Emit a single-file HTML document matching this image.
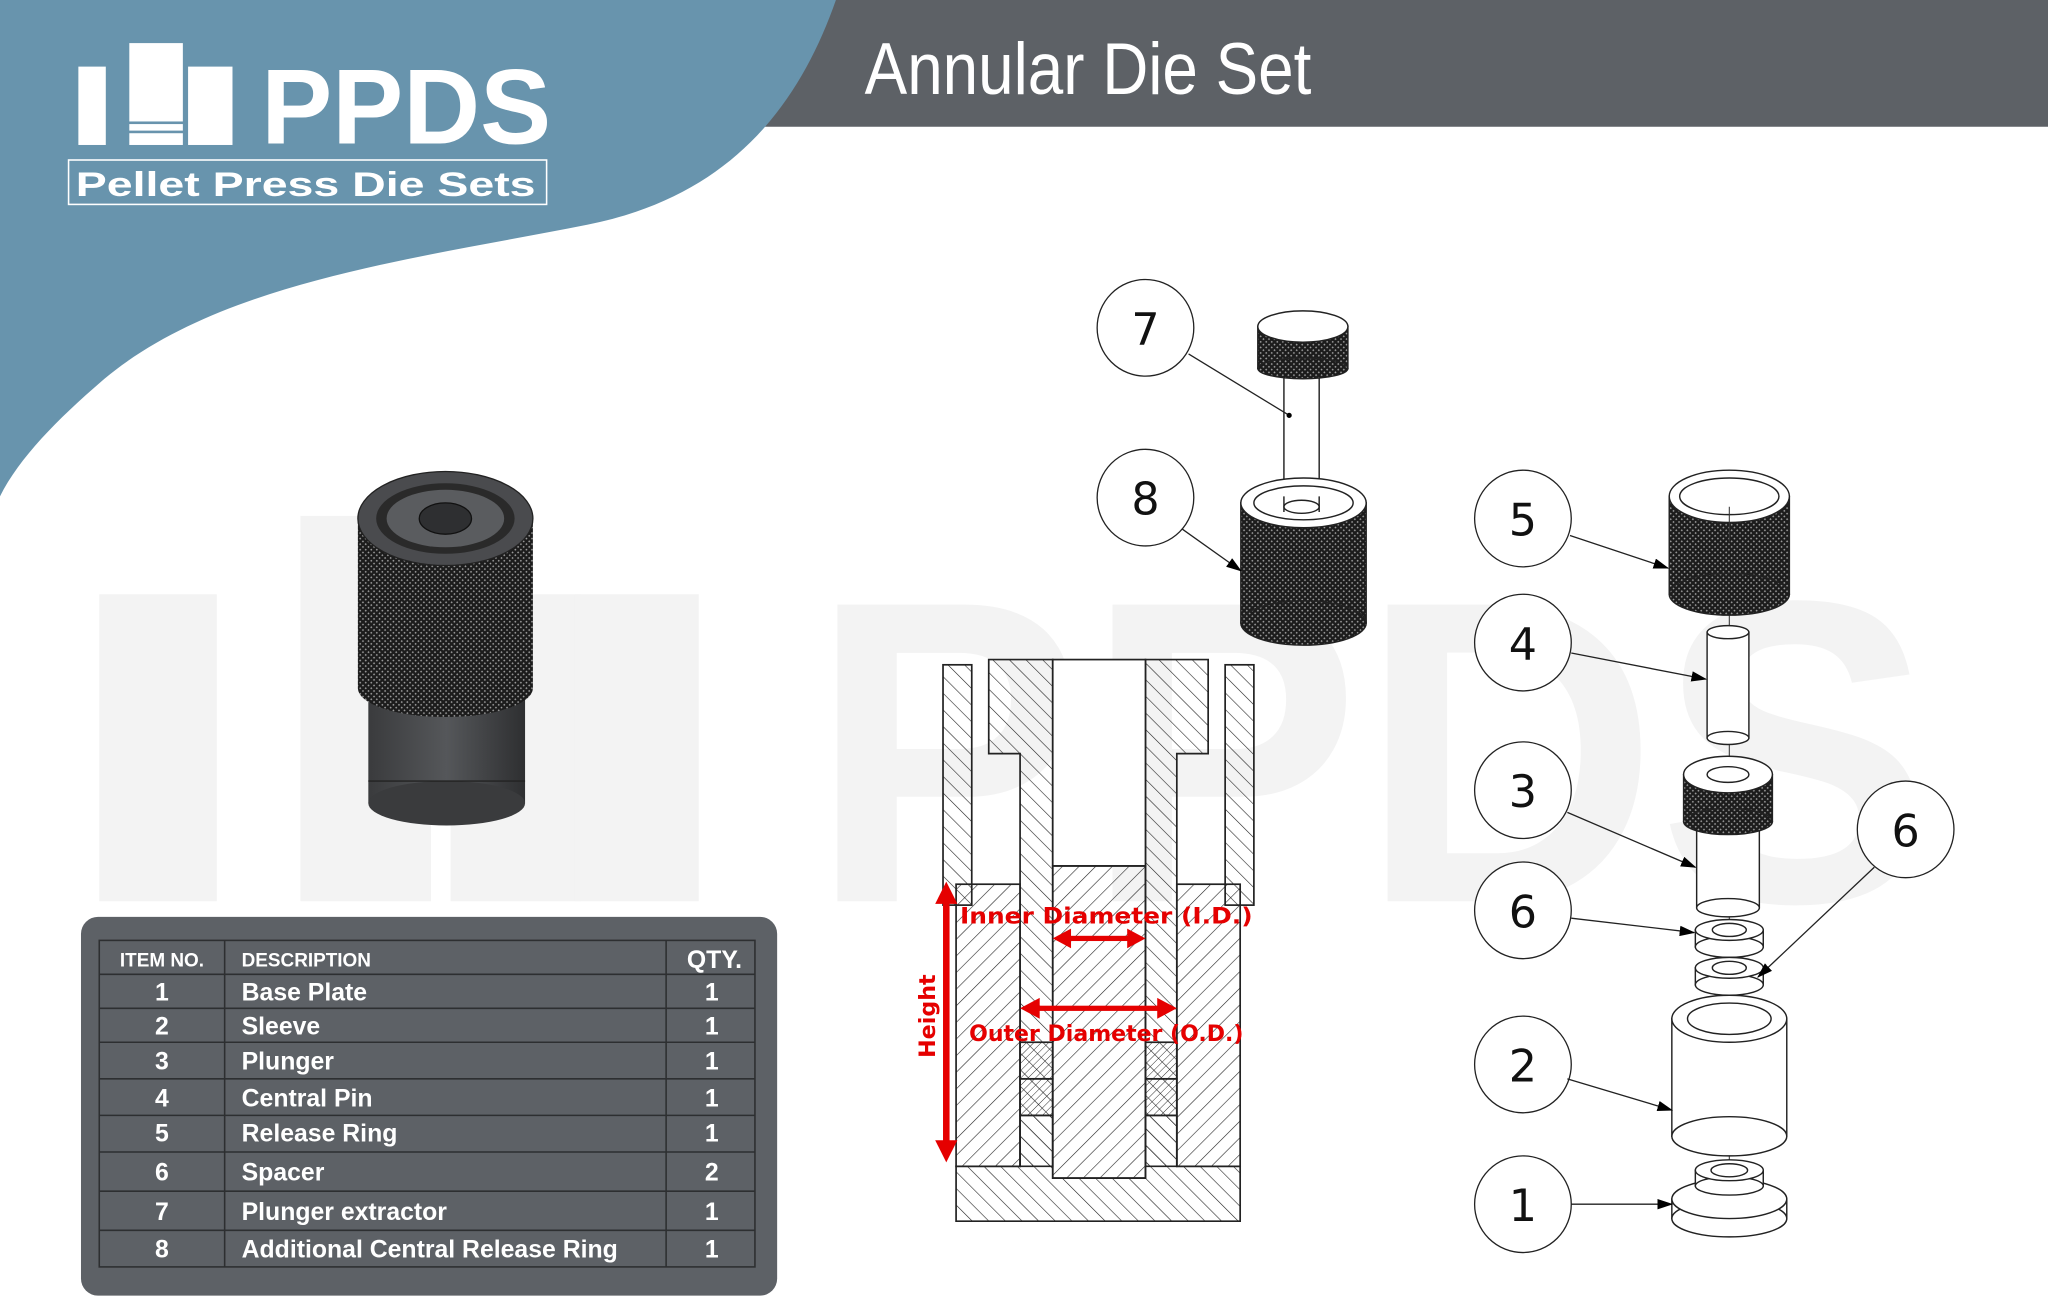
<!DOCTYPE html>
<html><head><meta charset="utf-8"><style>
html,body{margin:0;padding:0;background:#fff;width:2048px;height:1304px;overflow:hidden}
svg{display:block}
</style></head><body>
<svg width="2048" height="1304" viewBox="0 0 1568 998.4" preserveAspectRatio="none" xmlns="http://www.w3.org/2000/svg">
<defs>
<pattern id="h1" width="9" height="9" patternUnits="userSpaceOnUse" patternTransform="rotate(45)"><line x1="0" y1="0" x2="0" y2="9" stroke="#222" stroke-width="0.9"/></pattern>
<pattern id="h2" width="9" height="9" patternUnits="userSpaceOnUse" patternTransform="rotate(-45)"><line x1="0" y1="0" x2="0" y2="9" stroke="#222" stroke-width="0.9"/></pattern>
<pattern id="h3" width="4" height="4" patternUnits="userSpaceOnUse" patternTransform="rotate(45)"><line x1="0" y1="0" x2="0" y2="4" stroke="#222" stroke-width="0.7"/></pattern>
<pattern id="kn" width="3" height="3" patternUnits="userSpaceOnUse" patternTransform="rotate(45)"><rect width="3" height="3" fill="#1c1c1c"/><rect width="1.2" height="1.2" fill="#9a9a9a"/></pattern>
<linearGradient id="cyl" x1="0" x2="1"><stop offset="0" stop-color="#3a3b3d"/><stop offset="0.5" stop-color="#55575a"/><stop offset="1" stop-color="#2e2f31"/></linearGradient>
<marker id="ar" markerWidth="12" markerHeight="8" refX="11" refY="4" orient="auto" markerUnits="userSpaceOnUse"><path d="M0,0 L12,4 L0,8 Z" fill="#000"/></marker>
</defs>

<!-- watermark -->
<g fill="#f3f3f3">
<rect x="76" y="455" width="90" height="235"/><rect x="230" y="395" width="100" height="295"/><rect x="345" y="455" width="100" height="235"/>
<rect x="440" y="455" width="95" height="235"/>
<text x="620" y="690" font-family="Liberation Sans, sans-serif" font-weight="bold" font-size="330" textLength="860" lengthAdjust="spacingAndGlyphs">PPDS</text>
</g>

<!-- header -->
<path d="M560,97 L600,0 H1568 V97 Z" fill="#5d6166"/>
<path d="M0,0 H640 C612,80 560,150 450,172 C320,198 170,215 80,290 C45,320 15,350 0,380 Z" fill="#6894ad"/>
<text x="662" y="72" font-family="Liberation Sans, sans-serif" font-size="56" fill="#fff" textLength="342" lengthAdjust="spacingAndGlyphs">Annular Die Set</text>

<!-- logo -->
<g fill="#fff">
<rect x="60" y="51" width="21" height="60"/>
<rect x="99" y="33" width="41" height="60"/><rect x="99" y="95" width="41" height="5"/><rect x="99" y="102" width="41" height="9"/>
<rect x="144" y="51" width="34" height="60"/>
</g>
<text x="200" y="110" font-family="Liberation Sans, sans-serif" font-weight="bold" font-size="82" fill="#fff" textLength="222" lengthAdjust="spacingAndGlyphs">PPDS</text>
<rect x="52.5" y="122.5" width="366" height="34" fill="none" stroke="#fff" stroke-width="1.2"/>
<text x="58" y="150" font-family="Liberation Sans, sans-serif" font-weight="bold" font-size="26" fill="#fff" textLength="352" lengthAdjust="spacingAndGlyphs">Pellet Press Die Sets</text>

<!-- die photo -->
<g>
<rect x="282" y="520" width="120" height="95" fill="url(#cyl)"/>
<ellipse cx="342" cy="615" rx="60" ry="17" fill="#3a3b3d"/>
<line x1="282" y1="598" x2="402" y2="598" stroke="#222" stroke-width="1"/>
<rect x="274" y="397" width="134" height="130" fill="url(#kn)"/>
<ellipse cx="341" cy="527" rx="67" ry="22" fill="url(#kn)"/>
<ellipse cx="341" cy="397" rx="67" ry="36" fill="#4a4b4e" stroke="#222"/>
<ellipse cx="341" cy="397" rx="53" ry="27" fill="#2a2a2a"/>
<ellipse cx="341" cy="397" rx="45" ry="22" fill="#5a5c5f"/>
<ellipse cx="341" cy="397" rx="20" ry="12" fill="#2e2f31" stroke="#111"/>
</g>

<!-- table -->
<rect x="62" y="702" width="533" height="290" rx="13" fill="#5d6166"/>
<g stroke="#2d2f31" stroke-width="1.2" fill="none">
<rect x="76" y="720" width="502" height="250"/>
<line x1="172" y1="720" x2="172" y2="970"/><line x1="510" y1="720" x2="510" y2="970"/>
<line x1="76" y1="746" x2="578" y2="746"/><line x1="76" y1="772" x2="578" y2="772"/>
<line x1="76" y1="798" x2="578" y2="798"/><line x1="76" y1="826" x2="578" y2="826"/>
<line x1="76" y1="854" x2="578" y2="854"/><line x1="76" y1="882" x2="578" y2="882"/>
<line x1="76" y1="912" x2="578" y2="912"/><line x1="76" y1="942" x2="578" y2="942"/>
</g>
<g font-family="Liberation Sans, sans-serif" font-weight="bold" fill="#fff">
<text x="124" y="740" font-size="14.5" text-anchor="middle">ITEM NO.</text>
<text x="185" y="740" font-size="14.5">DESCRIPTION</text>
<text x="547" y="741" font-size="19" text-anchor="middle">QTY.</text>
<g font-size="19">
<text x="124" y="766" text-anchor="middle">1</text><text x="185" y="766">Base Plate</text><text x="545" y="766" text-anchor="middle">1</text>
<text x="124" y="792" text-anchor="middle">2</text><text x="185" y="792">Sleeve</text><text x="545" y="792" text-anchor="middle">1</text>
<text x="124" y="819" text-anchor="middle">3</text><text x="185" y="819">Plunger</text><text x="545" y="819" text-anchor="middle">1</text>
<text x="124" y="847" text-anchor="middle">4</text><text x="185" y="847">Central Pin</text><text x="545" y="847" text-anchor="middle">1</text>
<text x="124" y="874" text-anchor="middle">5</text><text x="185" y="874">Release Ring</text><text x="545" y="874" text-anchor="middle">1</text>
<text x="124" y="904" text-anchor="middle">6</text><text x="185" y="904">Spacer</text><text x="545" y="904" text-anchor="middle">2</text>
<text x="124" y="934" text-anchor="middle">7</text><text x="185" y="934">Plunger extractor</text><text x="545" y="934" text-anchor="middle">1</text>
<text x="124" y="963" text-anchor="middle">8</text><text x="185" y="963">Additional Central Release Ring</text><text x="545" y="963" text-anchor="middle">1</text>
</g></g>

<!-- cross section -->
<g stroke="#222" stroke-width="1.3">
<rect x="722" y="509" width="22" height="184" fill="url(#h2)"/>
<rect x="938" y="509" width="22" height="184" fill="url(#h2)"/>
<path d="M757,505 H806 V893 H781 V577 H757 Z" fill="url(#h2)"/>
<path d="M877,505 H925 V577 H901 V893 H877 Z" fill="url(#h2)"/>
<rect x="806" y="505" width="71" height="158" fill="#fff"/>
<rect x="806" y="663" width="71" height="239" fill="url(#h1)"/>
<rect x="732" y="677" width="49" height="216" fill="url(#h1)"/>
<rect x="901" y="677" width="48.5" height="216" fill="url(#h1)"/>
<rect x="781" y="798" width="25" height="28" fill="url(#h3)"/>
<rect x="781" y="826" width="25" height="28" fill="url(#h3)"/>
<rect x="877" y="798" width="24" height="28" fill="url(#h3)"/>
<rect x="877" y="826" width="24" height="28" fill="url(#h3)"/>
<path d="M732,893 H781 V854 H806 V902 H877 V854 H901 V893 H949.5 V935 H732 Z" fill="url(#h2)"/>
</g>
<g fill="#e50000" stroke="none">
<rect x="722" y="688" width="5" height="192"/><path d="M724.5,675 L716,692 H733 Z"/><path d="M724.5,890 L716,873 H733 Z"/>
<rect x="818" y="716.5" width="46" height="4"/><path d="M806,718.5 L820,711 V726 Z"/><path d="M877,718.5 L863,711 V726 Z"/>
<rect x="795" y="770" width="92" height="4"/><path d="M781,772 L796,764 V780 Z"/><path d="M901,772 L886,764 V780 Z"/>
</g>
<g font-family="DejaVu Sans, sans-serif" font-weight="bold" fill="#e50000">
<text x="847" y="707" font-size="17" text-anchor="middle" textLength="224" lengthAdjust="spacingAndGlyphs">Inner Diameter (I.D.)</text>
<text x="847" y="797" font-size="17" text-anchor="middle" textLength="210" lengthAdjust="spacingAndGlyphs">Outer Diameter (O.D.)</text>
<text transform="translate(716,778) rotate(-90)" font-size="17" text-anchor="middle">Height</text>
</g>

<!-- balloons -->
<g fill="#fff" stroke="#222" stroke-width="1">
<circle cx="877" cy="251" r="37"/><circle cx="877" cy="381" r="37"/>
<circle cx="1166" cy="397" r="37"/><circle cx="1166" cy="492" r="37"/><circle cx="1166" cy="605" r="37"/>
<circle cx="1166" cy="697" r="37"/><circle cx="1166" cy="815" r="37"/><circle cx="1166" cy="922" r="37"/>
<circle cx="1459" cy="635" r="37"/>
</g>
<g font-family="DejaVu Sans, sans-serif" font-size="34" fill="#111" text-anchor="middle">
<text x="877" y="264">7</text><text x="877" y="394">8</text>
<text x="1166" y="410">5</text><text x="1166" y="505">4</text><text x="1166" y="618">3</text>
<text x="1166" y="710">6</text><text x="1166" y="828">2</text><text x="1166" y="935">1</text>
<text x="1459" y="648">6</text>
</g>

<!-- part 7 & 8 -->
<g stroke="#222" stroke-width="1.1">
<rect x="983" y="280" width="27" height="112" fill="#fff"/>
<rect x="963" y="250" width="69" height="32" fill="url(#kn)"/>
<ellipse cx="997.5" cy="282" rx="34.5" ry="8" fill="url(#kn)"/>
<ellipse cx="997.5" cy="250" rx="34.5" ry="12" fill="#fff"/>
<rect x="950" y="385" width="96" height="92" fill="url(#kn)"/>
<ellipse cx="998" cy="477" rx="48" ry="17" fill="url(#kn)"/>
<ellipse cx="998" cy="385" rx="48" ry="19" fill="#fff"/>
<ellipse cx="998" cy="385" rx="38" ry="13" fill="#fff"/>
<path d="M983,392 V380 M1010,392 V380" fill="none"/>
<ellipse cx="996.5" cy="388" rx="13.5" ry="5" fill="#fff"/>
</g>
<g stroke="#222" stroke-width="1" fill="none">
<line x1="910" y1="271" x2="987" y2="318"/>
<line x1="905" y1="405" x2="950" y2="437" marker-end="url(#ar)"/>
</g>
<circle cx="987" cy="318" r="2" fill="#000"/>

<!-- exploded right -->
<line x1="1324" y1="388" x2="1324" y2="915" stroke="#333" stroke-width="0.8"/>
<g stroke="#222" stroke-width="1.1">
<!-- 5 -->
<rect x="1278" y="380" width="92" height="75" fill="url(#kn)"/>
<ellipse cx="1324" cy="455" rx="46" ry="16" fill="url(#kn)"/>
<ellipse cx="1324" cy="380" rx="46" ry="20" fill="#fff"/>
<ellipse cx="1324" cy="380" rx="38" ry="14" fill="#fff"/>
<!-- 4 -->
<rect x="1307" y="484" width="32" height="81" fill="#fff"/>
<ellipse cx="1323" cy="565" rx="16" ry="5" fill="#fff"/>
<ellipse cx="1323" cy="484" rx="16" ry="5" fill="#fff"/>
<!-- 3 -->
<rect x="1299" y="625" width="48" height="70" fill="#fff"/>
<ellipse cx="1323" cy="695" rx="24" ry="7" fill="#fff"/>
<rect x="1289" y="593" width="68" height="36" fill="url(#kn)"/>
<ellipse cx="1323" cy="629" rx="34" ry="10" fill="url(#kn)"/>
<ellipse cx="1323" cy="593" rx="34" ry="14" fill="#fff"/>
<ellipse cx="1323" cy="593" rx="16" ry="6" fill="#fff"/>
<!-- 6 upper -->
<rect x="1298" y="712" width="52" height="13" fill="#fff"/>
<ellipse cx="1324" cy="725" rx="26" ry="8" fill="#fff"/>
<ellipse cx="1324" cy="712" rx="26" ry="8" fill="#fff"/>
<ellipse cx="1324" cy="712" rx="13" ry="5" fill="#fff"/>
<!-- 6 lower -->
<rect x="1298" y="741" width="52" height="13" fill="#fff"/>
<ellipse cx="1324" cy="754" rx="26" ry="8" fill="#fff"/>
<ellipse cx="1324" cy="741" rx="26" ry="8" fill="#fff"/>
<ellipse cx="1324" cy="741" rx="13" ry="5" fill="#fff"/>
<!-- 2 -->
<rect x="1280" y="780" width="88" height="90" fill="#fff"/>
<ellipse cx="1324" cy="870" rx="44" ry="15" fill="#fff"/>
<ellipse cx="1324" cy="780" rx="44" ry="18" fill="#fff"/>
<ellipse cx="1324" cy="780" rx="32" ry="12" fill="#fff"/>
<!-- 1 -->
<rect x="1280" y="918" width="88" height="15" fill="#fff"/>
<ellipse cx="1324" cy="933" rx="44" ry="14" fill="#fff"/>
<ellipse cx="1324" cy="918" rx="44" ry="15" fill="#fff"/>
<rect x="1298" y="896" width="52" height="12" fill="#fff"/>
<ellipse cx="1324" cy="908" rx="26" ry="7" fill="#fff"/>
<ellipse cx="1324" cy="896" rx="26" ry="8" fill="#fff"/>
<ellipse cx="1324" cy="896" rx="14" ry="5" fill="#fff"/>
</g>
<line x1="1324" y1="388" x2="1324" y2="415" stroke="#333" stroke-width="0.8"/>
<g stroke="#222" stroke-width="1" fill="none" marker-end="url(#ar)">
<line x1="1202" y1="410" x2="1277" y2="435"/>
<line x1="1203" y1="500" x2="1306" y2="520"/>
<line x1="1200" y1="622" x2="1298" y2="664"/>
<line x1="1203" y1="703" x2="1297" y2="714"/>
<line x1="1200" y1="826" x2="1280" y2="850"/>
<line x1="1203" y1="922" x2="1280" y2="922"/>
<line x1="1435" y1="664" x2="1346" y2="748"/>
</g>
</svg>
</body></html>
